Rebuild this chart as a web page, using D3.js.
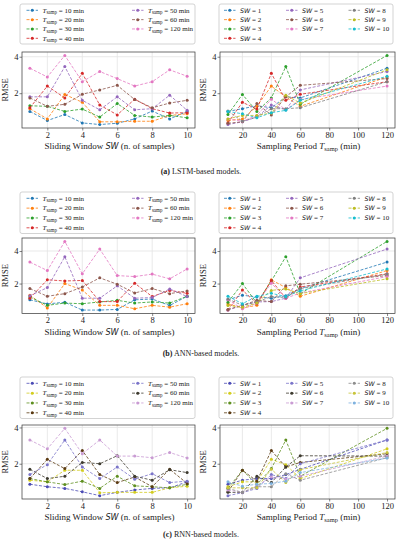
<!DOCTYPE html>
<html>
<head>
<meta charset="utf-8">
<script src="https://cdn.jsdelivr.net/npm/d3@7"></script>
<style>
body { margin: 0; background: #fff; }
svg { display: block; }
text { font-family: "Liberation Serif", "DejaVu Serif", serif; fill: #222; }
</style>
</head>
<body>
<svg id="chart" width="397" height="550"></svg>
<script>
var swValues = [1, 2, 3, 4, 5, 6, 7, 8, 9, 10]
var tsampValues = [10, 20, 30, 40, 50, 60, 120]
var swTicks = [2, 4, 6, 8, 10]
var tsampTicks = [20, 40, 60, 80, 100, 120]
var rmseTicks = [2, 4]

// one row per Tsamp (10..120 min), one column per SW (1..10)
var lstmRmse = [
	[1.00, 0.50, 0.83, 0.37, 0.28, 0.35, 0.59, 1.02, 0.59, 1.00],
	[1.15, 0.59, 1.93, 1.50, 0.43, 0.43, 0.46, 0.46, 0.78, 0.87],
	[1.31, 1.28, 1.00, 1.13, 0.69, 1.43, 0.78, 0.69, 0.78, 0.65],
	[1.20, 2.39, 1.74, 3.09, 1.35, 0.81, 1.67, 1.15, 0.91, 0.93],
	[1.80, 1.80, 3.46, 1.61, 1.09, 1.80, 1.09, 1.15, 1.89, 1.06],
	[1.74, 1.28, 1.39, 1.94, 2.18, 2.43, 1.65, 1.20, 1.46, 1.61],
	[3.37, 2.89, 4.07, 2.63, 3.19, 2.80, 2.39, 2.63, 3.28, 2.93]
]
var annRmse = [
	[1.00, 0.75, 0.85, 0.37, 0.37, 0.41, 1.00, 1.05, 0.65, 1.22],
	[1.28, 0.50, 2.00, 1.60, 0.66, 0.66, 0.45, 0.66, 0.55, 0.76],
	[1.18, 0.66, 0.80, 0.76, 0.87, 0.97, 0.80, 0.87, 0.80, 1.22],
	[1.10, 2.23, 2.16, 2.19, 0.89, 0.89, 2.02, 1.20, 1.58, 1.40],
	[1.25, 1.75, 3.65, 1.10, 1.10, 1.86, 1.10, 1.14, 1.67, 1.20],
	[1.69, 1.22, 1.38, 1.79, 2.35, 1.96, 1.42, 1.69, 1.38, 1.55],
	[3.32, 2.80, 4.59, 2.60, 4.12, 2.49, 2.43, 2.58, 2.29, 2.90]
]
var rnnRmse = [
	[0.87, 0.73, 0.64, 0.45, 0.24, 0.42, 0.55, 0.64, 0.67, 1.00],
	[1.09, 1.00, 1.64, 1.64, 0.40, 0.42, 0.42, 0.42, 0.67, 0.76],
	[1.18, 1.00, 0.85, 1.04, 0.64, 1.31, 0.78, 0.73, 0.67, 0.87],
	[1.18, 2.24, 1.73, 2.73, 1.40, 0.96, 1.27, 0.73, 1.70, 0.91],
	[1.40, 1.95, 3.31, 1.82, 1.18, 1.82, 1.15, 1.45, 0.96, 1.04],
	[1.69, 1.18, 1.31, 2.07, 2.00, 2.44, 1.31, 1.09, 1.67, 1.51],
	[3.31, 2.82, 3.95, 2.55, 3.31, 2.42, 2.42, 2.33, 2.62, 2.31]
]

var modelNames = ["LSTM", "ANN", "RNN"]
var captionLetters = ["(a)", "(b)", "(c)"]
var tab10 = ["#1f77b4", "#ff7f0e", "#2ca02c", "#d62728", "#9467bd", "#8c564b", "#e377c2", "#7f7f7f", "#bcbd22", "#17becf"]
var rnnColors = ["#4b4bb5", "#d2cc1e", "#5e8f1f", "#5b3a12", "#7a74c9", "#3d3a2e", "#c99bd3", "#8d8d8d", "#c8c43a", "#7fb2df"]

// vertical layout of each row of panels
var rows = [
	{legTop: 4, legBot: 44, top: 52, bot: 128, caption: 173.5},
	{legTop: 192, legBot: 233.5, top: 238, bot: 313.5, caption: 356},
	{legTop: 377, legBot: 418.5, top: 425, bot: 499, caption: 537}
]
var leftX = [22, 195], rightX = [220, 395]

var svg = d3.select("#chart")

function padded(ext) {
	var p = (ext[1] - ext[0]) * 0.05
	return [ext[0] - p, ext[1] + p]
}

// T_samp label pieces
function tsampText(sel, size, rest) {
	sel.append("tspan").attr("font-style", "italic").text("T")
	sel.append("tspan").attr("font-size", size * 0.72).attr("dy", size * 0.25).text("samp")
	sel.append("tspan").attr("dy", -size * 0.25).text(rest)
}
function swText(sel, size, rest) {
	sel.append("tspan").attr("font-family", "DejaVu Sans").attr("font-style", "italic")
		.attr("font-size", size * 0.9).text("SW")
	sel.append("tspan").text(rest)
}

function drawPanel(row, xr, xDomain, xTicks, series, colors, xlabelFn) {
	var x = d3.scaleLinear().domain(padded(xDomain)).range(xr)
	var all = d3.merge(series.map(function(s) { return s.map(function(p) { return p[1] }) }))
	var y = d3.scaleLinear().domain(padded(d3.extent(all))).range([row.bot, row.top])
	var g = svg.append("g")

	// grid
	g.append("g").selectAll("line").data(xTicks).join("line")
		.attr("x1", function(d) { return x(d) }).attr("x2", function(d) { return x(d) })
		.attr("y1", row.top).attr("y2", row.bot)
		.attr("stroke", "#e3e3e3").attr("stroke-width", 0.8)
	g.append("g").selectAll("line").data(rmseTicks).join("line")
		.attr("y1", function(d) { return y(d) }).attr("y2", function(d) { return y(d) })
		.attr("x1", xr[0]).attr("x2", xr[1])
		.attr("stroke", "#e3e3e3").attr("stroke-width", 0.8)

	var xAxis = g.append("g").attr("transform", "translate(0," + row.bot + ")")
		.call(d3.axisBottom(x).tickValues(xTicks).tickSize(2.5).tickPadding(1).tickFormat(d3.format("d")))
	var yAxis = g.append("g").attr("transform", "translate(" + xr[0] + ",0)")
		.call(d3.axisLeft(y).tickValues(rmseTicks).tickSize(2.5).tickPadding(1).tickFormat(d3.format("d")))
	;[xAxis, yAxis].forEach(function(a) {
		a.attr("font-family", null).attr("font-size", 8.5)
		a.select(".domain").remove()
		a.selectAll(".tick line").attr("stroke", "#333").attr("stroke-width", 0.6)
		a.selectAll(".tick text").attr("fill", "#222")
	})

	g.append("rect").attr("x", xr[0]).attr("y", row.top)
		.attr("width", xr[1] - xr[0]).attr("height", row.bot - row.top)
		.attr("fill", "none").attr("stroke", "#333").attr("stroke-width", 0.7)

	var line = d3.line().x(function(p) { return x(p[0]) }).y(function(p) { return y(p[1]) })
	series.forEach(function(s, i) {
		g.append("path").datum(s).attr("d", line)
			.attr("fill", "none").attr("stroke", colors[i])
			.attr("stroke-width", 0.8).attr("stroke-dasharray", "3,1.6")
		g.append("g").selectAll("circle").data(s).join("circle")
			.attr("cx", function(p) { return x(p[0]) }).attr("cy", function(p) { return y(p[1]) })
			.attr("r", 1.5).attr("fill", colors[i])
	})

	g.append("text")
		.attr("transform", "translate(" + (xr[0] - 14) + "," + ((row.top + row.bot) / 2) + ") rotate(-90)")
		.attr("text-anchor", "middle").attr("font-size", 8.5).text("RMSE")

	var xl = g.append("text").attr("x", (xr[0] + xr[1]) / 2 + 1).attr("y", row.bot + 21)
		.attr("text-anchor", "middle").attr("font-size", 9)
	xlabelFn(xl)
}

function drawLegend(row, box, cols, labels, colors, labelFn) {
	var g = svg.append("g")
	g.append("rect").attr("x", box[0]).attr("y", row.legTop)
		.attr("width", box[1] - box[0]).attr("height", row.legBot - row.legTop)
		.attr("rx", 2).attr("fill", "#fff").attr("stroke", "#c8c8c8").attr("stroke-width", 0.8)
	var step = (row.legBot - row.legTop - 12) / 3
	labels.forEach(function(lab, i) {
		var c = cols[i].col, r = cols[i].row
		var cx = cols.x[c], cy = row.legTop + 6.3 + r * step
		g.append("line").attr("x1", cx).attr("x2", cx + 11.5).attr("y1", cy).attr("y2", cy)
			.attr("stroke", colors[i]).attr("stroke-width", 0.8).attr("stroke-dasharray", "3,1.6")
		g.append("circle").attr("cx", cx + 5.75).attr("cy", cy).attr("r", 1.5).attr("fill", colors[i])
		var t = g.append("text").attr("x", cx + 16).attr("y", cy + 2.3).attr("font-size", 7)
		labelFn(t, lab)
	})
}

function placement(n, perCol, xs) {
	var out = []
	for (var i = 0; i < n; i++) {
		var c = 0, k = i
		while (k >= perCol[c]) { k -= perCol[c]; c++ }
		out.push({col: c, row: k})
	}
	out.x = xs
	return out
}

function drawModel(m, rmse, colors) {
	var row = rows[m]

	// left: RMSE vs SW, one line per Tsamp
	var bySw = tsampValues.map(function(t, i) {
		return swValues.map(function(sw, j) { return [sw, rmse[i][j]] })
	})
	drawPanel(row, leftX, [1, 10], swTicks, bySw, colors, function(t) {
		t.append("tspan").text("Sliding Window ")
		swText(t, 9, " (n. of samples)")
	})
	drawLegend(row, [20, 195], placement(7, [4, 3], [26.5, 132]), tsampValues, colors, function(t, v) {
		tsampText(t, 7, " = " + v + " min")
	})

	// right: RMSE vs Tsamp, one line per SW
	var byTsamp = swValues.map(function(sw, j) {
		return tsampValues.map(function(t, i) { return [t, rmse[i][j]] })
	})
	drawPanel(row, rightX, [10, 120], tsampTicks, byTsamp, colors, function(t) {
		t.append("tspan").text("Sampling Period ")
		tsampText(t, 9, " (min)")
	})
	drawLegend(row, [219, 393], placement(10, [4, 3, 3], [224, 286, 348.5]), swValues, colors, function(t, v) {
		swText(t, 7, " = " + v)
	})

	var cap = svg.append("text").attr("x", 201).attr("y", row.caption)
		.attr("text-anchor", "middle").attr("font-size", 8)
	cap.append("tspan").attr("font-weight", "bold").text(captionLetters[m])
	cap.append("tspan").text(" " + modelNames[m] + "-based models.")
}

drawModel(0, lstmRmse, tab10)
drawModel(1, annRmse, tab10)
drawModel(2, rnnRmse, rnnColors)
</script>
</body>
</html>
